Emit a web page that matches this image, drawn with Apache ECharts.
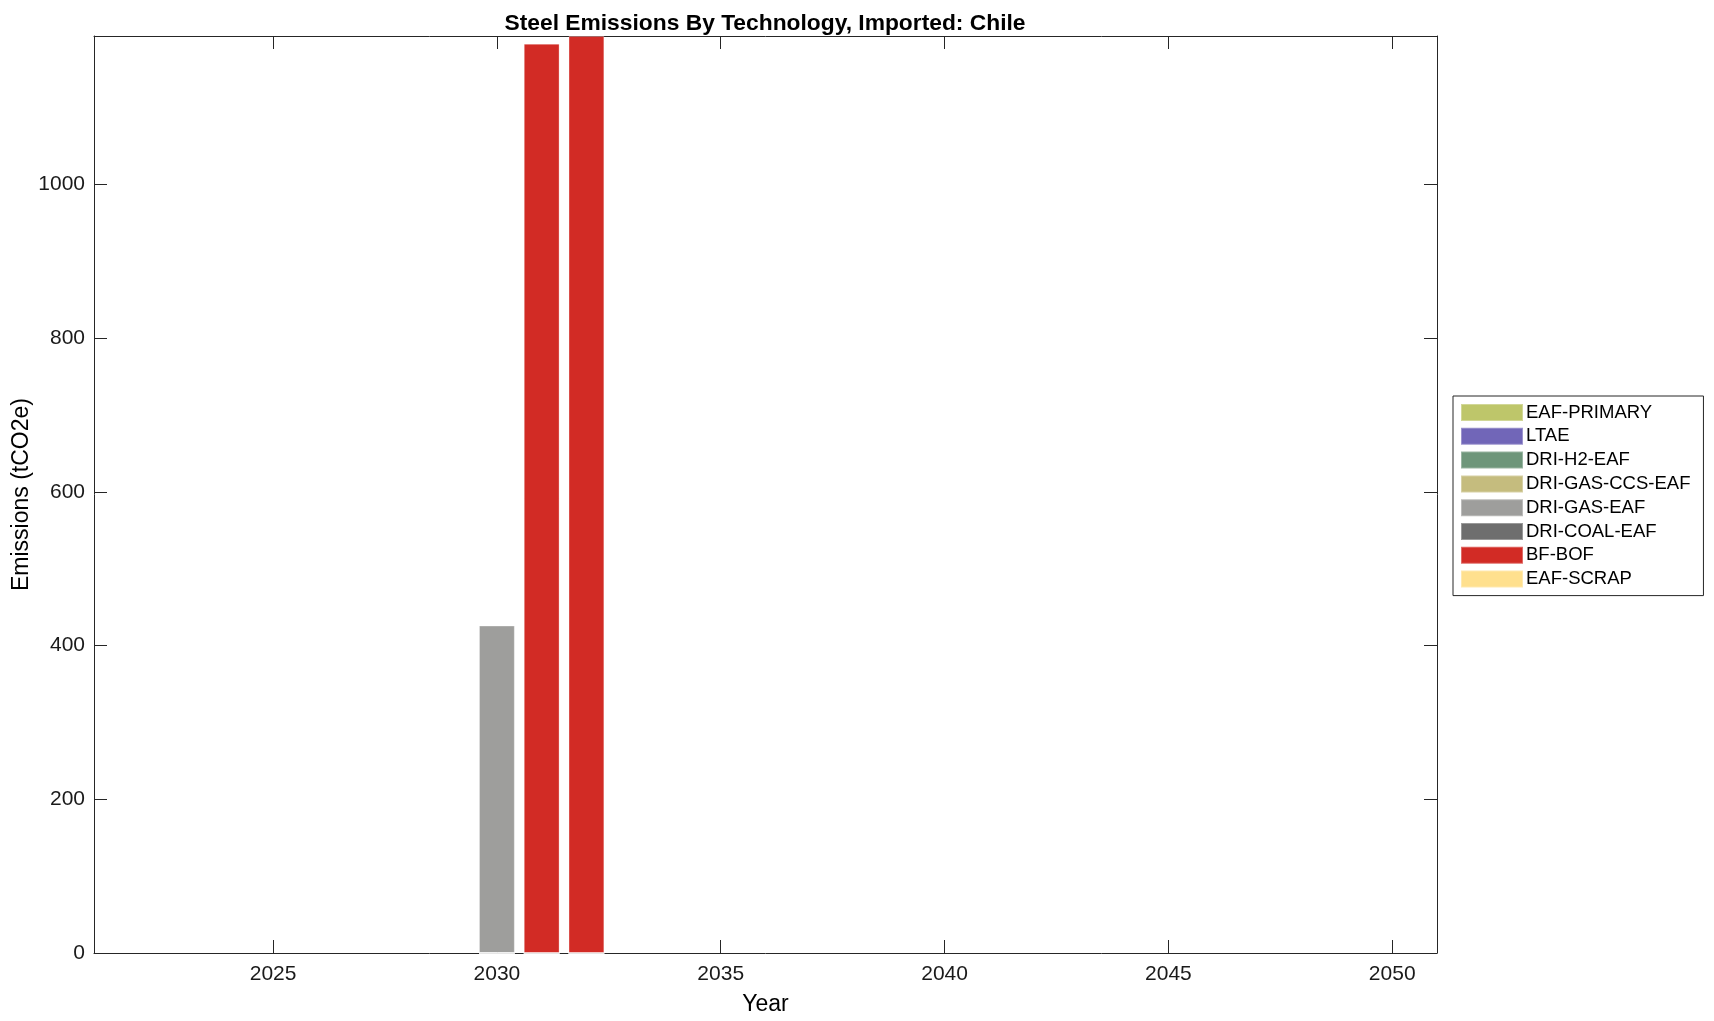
<!DOCTYPE html>
<html>
<head>
<meta charset="utf-8">
<script src="https://cdn.jsdelivr.net/npm/echarts@6/dist/echarts.min.js"></script>
<style>
html,body{margin:0;padding:0;background:#fff;}
#chart{width:1714px;height:1021px;}
</style>
</head>
<body>
<div id="chart"></div>
<script>
// ---- data ----
const years = [2030, 2031, 2032];
const technologies = ['EAF-PRIMARY','LTAE','DRI-H2-EAF','DRI-GAS-CCS-EAF','DRI-GAS-EAF','DRI-COAL-EAF','BF-BOF','EAF-SCRAP'];
const eafPrimary   = [0, 0, 0];
const ltae         = [0, 0, 0];
const driH2Eaf     = [0, 0, 0];
const driGasCcsEaf = [0, 0, 0];
const driGasEaf    = [426, 0, 0];
const driCoalEaf   = [0, 0, 0];
const bfBof        = [0, 1183, 1193];
const eafScrap     = [0, 0, 0];
const xTicks = [2025, 2030, 2035, 2040, 2045, 2050];
const yTicks = [0, 200, 400, 600, 800, 1000];
const techColors = ['#bec66a','#7166b8','#6e967a','#c5bc7e','#9e9e9c','#6e6e6e','#d22b25','#ffe08e'];

const seriesValues = [eafPrimary, ltae, driH2Eaf, driGasCcsEaf, driGasEaf, driCoalEaf, bfBof, eafScrap];

// ---- layout ----
const G = {left: 94, top: 36, right: 1714 - 1437, bottom: 1021 - 953};
const xMin = 2021, xMax = 2051;
const gridW = 1714 - G.left - G.right;
const barW = 0.8 * gridW / (xMax - xMin);
const yMax = Math.max(...years.map((_, i) => seriesValues.reduce((s, a) => s + a[i], 0)));

const FONT = '"Liberation Sans", Arial, Helvetica, sans-serif';
const AX = '#262626';

const series = technologies.map((name, k) => ({
  name,
  type: 'bar',
  stack: 'total',
  barWidth: barW,
  itemStyle: {color: techColors[k], borderColor: 'rgba(255,255,255,0.3)', borderWidth: 1},
  data: years.map((y, i) => [y, seriesValues[k][i]]),
  xAxisIndex: 0, yAxisIndex: 0
}));

const chart = echarts.init(document.getElementById('chart'), null, {renderer: 'canvas'});
chart.setOption({
  animation: false,
  backgroundColor: '#fff',
  title: {
    text: 'Steel Emissions By Technology, Imported: Chile',
    left: 760, top: 7, textAlign: 'center',
    textStyle: {fontFamily: FONT, fontWeight: 'bold', fontSize: 22.8, color: '#000'}
  },
  grid: {left: G.left, top: G.top, right: G.right, bottom: G.bottom, containLabel: false, outerBoundsMode: 'none'},
  legend: {
    orient: 'vertical', left: 1453, top: 396,
    data: technologies,
    itemWidth: 62, itemHeight: 17, itemGap: 4.8,
    padding: [7, 13, 7, 7],
    borderColor: AX, borderWidth: 1, backgroundColor: '#fff',
    icon: 'rect',
    textStyle: {fontFamily: FONT, fontSize: 18.5, color: '#000', padding: [0, 0, 0, -2]},
    selectedMode: false
  },
  xAxis: [{
    type: 'value', min: xMin, max: xMax, position: 'bottom',
    name: 'Year', nameLocation: 'middle', nameGap: 40, nameMoveOverlap: false,
    nameTextStyle: {fontFamily: FONT, fontSize: 23, color: '#000'},
    axisLine: {show: true, lineStyle: {color: AX, width: 1}},
    axisTick: {show: true, inside: true, length: 13, customValues: xTicks, lineStyle: {color: AX}},
    axisLabel: {customValues: xTicks, formatter: v => String(v), fontFamily: FONT, fontSize: 21, color: '#1a1a1a', margin: 11},
    splitLine: {show: false}
  }, {
    type: 'value', min: xMin, max: xMax, position: 'top',
    axisLine: {show: true, onZero: false, lineStyle: {color: AX, width: 1}},
    axisTick: {show: true, inside: true, length: 13, customValues: xTicks, lineStyle: {color: AX}},
    axisLabel: {show: false}, splitLine: {show: false}
  }],
  yAxis: [{
    type: 'value', min: 0, max: yMax, position: 'left',
    name: 'Emissions (tCO2e)', nameLocation: 'middle', nameGap: 61, nameRotate: 90, nameMoveOverlap: false,
    nameTextStyle: {fontFamily: FONT, fontSize: 23, color: '#000'},
    axisLine: {show: true, lineStyle: {color: AX, width: 1}},
    axisTick: {show: true, inside: true, length: 13, customValues: yTicks, lineStyle: {color: AX}},
    axisLabel: {customValues: yTicks, formatter: v => String(v), fontFamily: FONT, fontSize: 21, color: '#1a1a1a', margin: 9},
    splitLine: {show: false}
  }, {
    type: 'value', min: 0, max: yMax, position: 'right',
    axisLine: {show: true, onZero: false, lineStyle: {color: AX, width: 1}},
    axisTick: {show: true, inside: true, length: 13, customValues: yTicks, lineStyle: {color: AX}},
    axisLabel: {show: false}, splitLine: {show: false}
  }],
  series
});
</script>
</body>
</html>
